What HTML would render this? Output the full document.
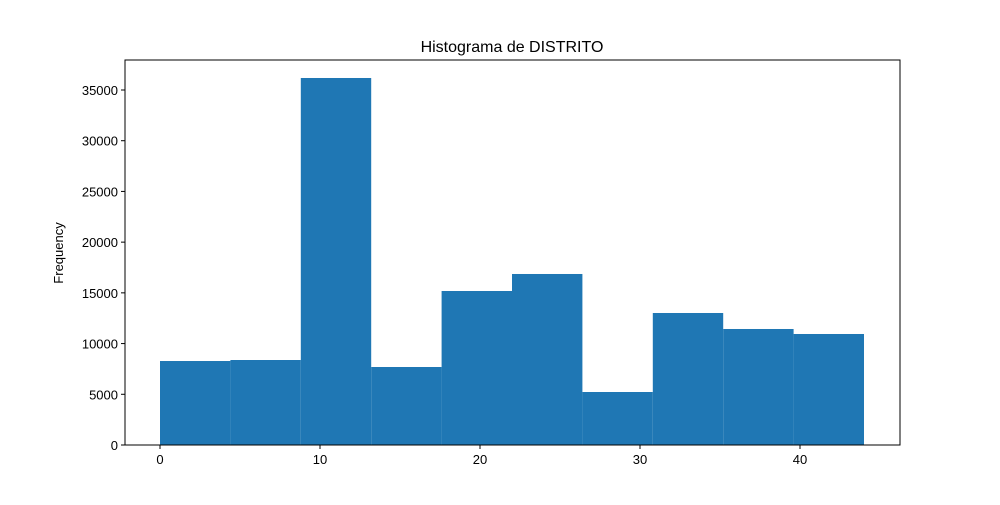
<!DOCTYPE html>
<html><head><meta charset="utf-8"><style>
body{margin:0;background:#fff;}
svg text{font-family:"Liberation Sans","DejaVu Sans",sans-serif;fill:#000;}
</style></head><body>
<svg id="chart" width="1000" height="500">
<rect width="1000" height="500" fill="#fff"/>
<text x="512" y="52" font-size="16" text-anchor="middle">Histograma de DISTRITO</text>
<text transform="translate(63,253) rotate(-90)" font-size="13" text-anchor="middle">Frequency</text>
<g id="bars"></g><g id="axes"></g>
</svg>
<script>
const binStart = 0;
const binWidth = 4.4;
const counts = [8281, 8380, 36183, 7690, 15183, 16860, 5225, 13014, 11437, 10944];
const xTicks = [0, 10, 20, 30, 40];
const yTicks = [0, 5000, 10000, 15000, 20000, 25000, 30000, 35000];
const L=125,R=900,T=60,B=445;
const xmin=-2.1875,xmax=46.25,ymax=37957;
const xs=v=>L+(v-xmin)/(xmax-xmin)*(R-L);
const ys=v=>B-v/ymax*(B-T);
const NS="http://www.w3.org/2000/svg";
const bars=document.getElementById('bars'),axes=document.getElementById('axes');
function mk(tag,attrs,parent){const e=document.createElementNS(NS,tag);for(const k in attrs)e.setAttribute(k,attrs[k]);parent.appendChild(e);return e;}
counts.forEach((c,i)=>{
  const x0=xs(binStart+i*binWidth),x1=xs(binStart+(i+1)*binWidth);
  const r=mk('rect',{x:x0,y:ys(c),width:x1-x0,height:B-ys(c),fill:'#1f77b4'},bars);
  
  
});
const frame=mk('rect',{x:L,y:T,width:R-L,height:B-T,fill:'none',stroke:'#000','stroke-width':1},axes);


xTicks.forEach(t=>{
  const x=xs(t);
  mk('line',{x1:x,x2:x,y1:B,y2:B+4,stroke:'#000'},axes);
  const tx=mk('text',{x:x,y:B+19,'font-size':13,'text-anchor':'middle'},axes);
  tx.textContent=t;
  
  
});
yTicks.forEach(t=>{
  const y=ys(t);
  mk('line',{x1:L-4,x2:L,y1:y,y2:y,stroke:'#000'},axes);
  const tx=mk('text',{x:L-7,y:y+5,'font-size':13,'text-anchor':'end'},axes);
  tx.textContent=t;
  
  
});
</script>
</body></html>
